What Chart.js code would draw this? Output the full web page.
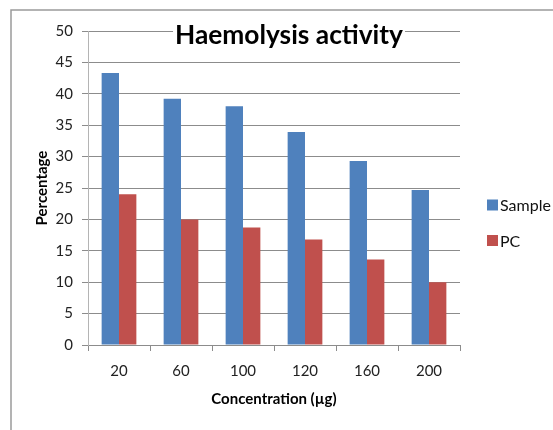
<!DOCTYPE html>
<html>
<head>
<meta charset="utf-8">
<script src="https://cdn.jsdelivr.net/npm/chart.js@4"></script>
<style>
  html, body { margin: 0; padding: 0; background: #fff; }
  #wrap { width: 553px; height: 430px; position: relative; }
</style>
</head>
<body>
<div id="wrap"><canvas id="c" width="553" height="430"></canvas></div>
<script>
const categories = ['20', '60', '100', '120', '160', '200'];
const sampleValues = [43.3, 39.2, 38.0, 33.9, 29.3, 24.7];
const pcValues = [24.0, 20.0, 18.7, 16.8, 13.6, 10.0];
const seriesNames = ['Sample', 'PC'];
const chartTitle = 'Haemolysis activity';
const xTitle = 'Concentration (µg)';
const yTitle = 'Percentage';

const FONT = 'Lato, "Open Sans", sans-serif';

const framePlugin = {
  id: 'frame',
  beforeDraw(chart) {
    const ctx = chart.ctx;
    ctx.save();
    ctx.fillStyle = '#fff';
    ctx.fillRect(0, 0, chart.width, chart.height);
    ctx.strokeStyle = '#9a9a9a';
    ctx.lineWidth = 1.5;
    ctx.beginPath();
    ctx.moveTo(11, chart.height);
    ctx.lineTo(11, 10);
    ctx.lineTo(chart.width, 10);
    ctx.stroke();
    ctx.restore();
  },
  afterDraw(chart) {
    const ctx = chart.ctx;
    ctx.save();
    let size = 27;
    ctx.font = 'bold ' + size + 'px ' + FONT;
    const w0 = ctx.measureText(chartTitle).width;
    size = size * 228 / w0;
    ctx.font = 'bold ' + size + 'px ' + FONT;
    const w = ctx.measureText(chartTitle).width;
    const cx = 289, cy = 36;
    ctx.fillStyle = '#fff';
    ctx.fillRect(cx - w / 2 - 2, cy - 14, w + 4, 28);
    ctx.fillStyle = '#000';
    ctx.textAlign = 'center';
    ctx.textBaseline = 'middle';
    ctx.fillText(chartTitle, cx, cy);
    ctx.font = '16px ' + FONT;
    ctx.textAlign = 'left';
    chart.data.datasets.forEach((ds, i) => {
      const y = 205 + i * 35.5;
      ctx.fillStyle = ds.backgroundColor;
      ctx.fillRect(487, y - 5.5, 11, 11);
      ctx.fillStyle = '#111';
      ctx.fillText(ds.label, 500, y + 1);
    });
    ctx.restore();
  }
};

new Chart(document.getElementById('c'), {
  type: 'bar',
  data: {
    labels: categories,
    datasets: [
      { label: seriesNames[0], data: sampleValues, backgroundColor: '#4F81BD', borderWidth: 0 },
      { label: seriesNames[1], data: pcValues, backgroundColor: '#C0504D', borderWidth: 0 }
    ]
  },
  options: {
    responsive: false,
    animation: false,
    layout: { padding: { left: 12, right: 93, top: 31, bottom: 0 } },
    plugins: {
      legend: { display: false },
      title: { display: false },
      tooltip: { enabled: false }
    },
    datasets: { bar: { categoryPercentage: 0.56, barPercentage: 1.0 } },
    scales: {
      x: {
        afterFit(scale) { scale.height = 85; },
        grid: { drawOnChartArea: false, drawTicks: true, tickLength: 6, color: '#8c8c8c', offset: true },
        border: { display: true, color: '#8c8c8c', width: 1 },
        ticks: { font: { family: FONT, size: 15 }, color: '#222', padding: 11 },
        title: { display: true, text: xTitle, font: { family: FONT, size: 15, weight: 'bold' }, color: '#000', padding: { top: 0, bottom: 22 } }
      },
      y: {
        min: 0, max: 50,
        afterFit(scale) { scale.width = 76; },
        ticks: { stepSize: 5, font: { family: FONT, size: 15 }, color: '#222', padding: 9 },
        grid: { color: '#8c8c8c', tickLength: 6, drawTicks: true },
        border: { display: true, color: '#b4b4b4', width: 1 },
        title: { display: true, text: yTitle, font: { family: FONT, size: 15, weight: 'bold' }, color: '#000', padding: { top: 21, bottom: 0 } }
      }
    }
  },
  plugins: [framePlugin]
});
</script>
</body>
</html>
